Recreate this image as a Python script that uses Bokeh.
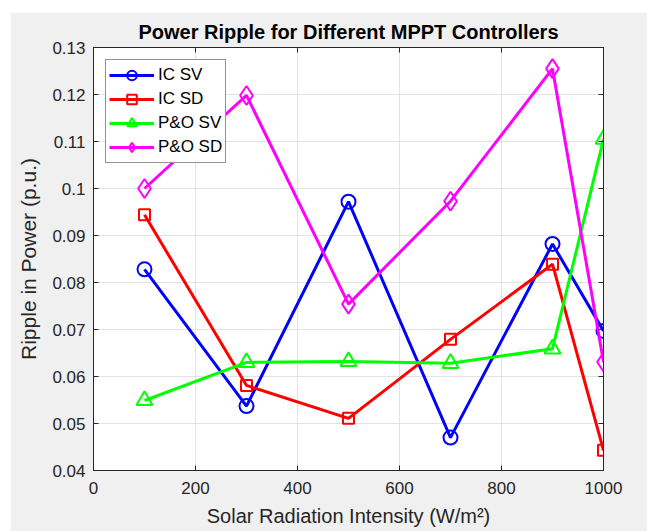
from bokeh.plotting import figure
from bokeh.models import FixedTicker, LinearAxis, Range1d, Legend, Spacer, CustomJSTickFormatter
from bokeh.layouts import row, column
from bokeh.embed import file_html
from bokeh.resources import INLINE

x_vals = [100, 300, 500, 700, 900, 1000]
ic_sv = [0.0828, 0.0537, 0.0972, 0.0470, 0.0882, 0.0697]
ic_sd = [0.0944, 0.0581, 0.0511, 0.0679, 0.0839, 0.0443]
po_sv = [0.0549, 0.0630, 0.0632, 0.0628, 0.0659, 0.1105]
po_sd = [0.1000, 0.1198, 0.0754, 0.0973, 0.1255, 0.0631]

x_ticks = [0, 200, 400, 600, 800, 1000]
y_ticks = [0.04, 0.05, 0.06, 0.07, 0.08, 0.09, 0.10, 0.11, 0.12, 0.13]
y_tick_labels = ["0.04", "0.05", "0.06", "0.07", "0.08", "0.09", "0.1", "0.11", "0.12", "0.13"]

FONT = "Liberation Sans"
DARK = "#262626"

p = figure(width=637, height=519, output_backend="svg", toolbar_location=None,
           x_range=Range1d(0, 1000), y_range=Range1d(0.04, 0.13),
           min_border_left=83, min_border_right=44, min_border_top=35, min_border_bottom=61,
           background_fill_color="white", border_fill_color="#f0f0f0",
           title="Power Ripple for Different MPPT Controllers")
p.title.align = "center"
p.title.text_font = FONT
p.title.text_font_size = "20px"
p.title.text_font_style = "bold"
p.title.text_color = "black"
p.title.offset = 0
p.outline_line_color = DARK

for ax in (p.xaxis[0], p.yaxis[0]):
    ax.major_tick_in = 5
    ax.major_tick_out = 0
    ax.minor_tick_in = 0
    ax.minor_tick_out = 0
    ax.axis_line_color = DARK
    ax.major_tick_line_color = DARK
    ax.major_label_text_font = FONT
    ax.major_label_text_font_size = "17px"
    ax.major_label_text_color = DARK
    ax.axis_label_text_font = FONT
    ax.axis_label_text_font_style = "normal"
    ax.axis_label_text_color = DARK

p.xaxis[0].ticker = FixedTicker(ticks=x_ticks)
p.yaxis[0].ticker = FixedTicker(ticks=y_ticks)
p.yaxis[0].major_label_overrides = {t: l for t, l in zip(y_ticks, y_tick_labels)}
p.xaxis[0].axis_label = "Solar Radiation Intensity (W/m²)"
p.yaxis[0].axis_label = "Ripple in Power (p.u.)"
p.xaxis[0].axis_label_text_font_size = "20px"
p.yaxis[0].axis_label_text_font_size = "21px"
p.xaxis[0].major_label_standoff = 11
p.yaxis[0].major_label_standoff = 8
p.xaxis[0].axis_label_standoff = 8
p.yaxis[0].axis_label_standoff = 9

blank = CustomJSTickFormatter(code="return ''")
right = LinearAxis(ticker=FixedTicker(ticks=y_ticks), formatter=blank,
                   major_tick_in=5, major_tick_out=0, minor_tick_in=0, minor_tick_out=0,
                   axis_line_color=DARK, major_tick_line_color=DARK)
top = LinearAxis(ticker=FixedTicker(ticks=x_ticks), formatter=blank,
                 major_tick_in=5, major_tick_out=0, minor_tick_in=0, minor_tick_out=0,
                 axis_line_color=DARK, major_tick_line_color=DARK)
p.add_layout(right, "right")
p.add_layout(top, "above")

p.xgrid.ticker = FixedTicker(ticks=x_ticks)
p.ygrid.ticker = FixedTicker(ticks=y_ticks)
p.xgrid.grid_line_color = "#e3e3e3"
p.ygrid.grid_line_color = "#e3e3e3"

series = [
    ("IC SV", ic_sv, "#0000ff", "circle", 14),
    ("IC SD", ic_sd, "#ff0000", "square", 11),
    ("P&O SV", po_sv, "#00ff00", "triangle", 16),
    ("P&O SD", po_sd, "#ff00ff", "diamond", 19),
]
items = []
for name, ys, col, mk, sz in series:
    r1 = p.line(x_vals, ys, line_color=col, line_width=3)
    r2 = p.scatter(x_vals, ys, marker=mk, size=sz, line_color=col, line_width=2,
                   fill_color=None)
    items.append((name, [r1, r2]))

leg = Legend(items=items, location="top_left", margin=12)
leg.border_line_color = DARK
leg.border_line_width = 1
leg.background_fill_color = "white"
leg.background_fill_alpha = 1
leg.label_text_font = FONT
leg.label_text_font_size = "17px"
leg.label_text_color = "black"
leg.glyph_width = 45
leg.glyph_height = 24
leg.label_height = 24
leg.spacing = 0
leg.padding = 3
leg.label_standoff = 4
p.add_layout(leg, "center")

layout = row(Spacer(width=10), column(Spacer(height=12), p))
open("out.html", "w").write(file_html(layout, INLINE))
